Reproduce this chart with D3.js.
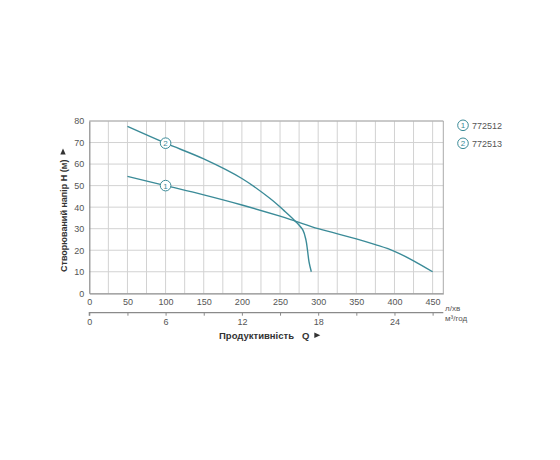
<!DOCTYPE html>
<html>
<head>
<meta charset="utf-8">
<script src="https://cdn.jsdelivr.net/npm/d3@7"></script>
<style>
    body { margin: 0; background: #fff; }
    text { font-family: "Liberation Sans", Arial, sans-serif; }
</style>
</head>
<body>
<svg id="chart" width="560" height="460"></svg>
<script>
// flow in l/min, head in m
const series1Q = [50, 100, 150, 200, 250, 270, 300, 350, 375, 400, 425, 450];
const series1H = [54.3, 50, 45.7, 41, 35.8, 33.5, 30, 25.3, 22.6, 19.5, 15.1, 10];
const series2Q = [50, 100, 150, 200, 237, 255, 270, 280, 284, 286, 288, 291];
const series2H = [77.5, 69.7, 62.4, 53.3, 44, 38.5, 33.5, 29.3, 24.7, 20, 14.6, 10];
const seriesNames = ['772512', '772513'];
const markerQ = 100;
const flowTicks = [0, 50, 100, 150, 200, 250, 300, 350, 400, 450];
const cubicTicks = [0, 6, 12, 18, 24];
const headTicks = [0, 10, 20, 30, 40, 50, 60, 70, 80];

const teal = '#3b8b98';
const gridColor = '#d2d2d2';
const axisColor = '#8a8a8a';
const labelColor = '#555';

const svg = d3.select('#chart');

const x = d3.scaleLinear().domain([0, 464]).range([89.3, 443.3]);
const xm3 = d3.scaleLinear().domain([0, 464 * 0.06]).range([89.3, 443.3]);
const y = d3.scaleLinear().domain([0, 80]).range([293.3, 121]);

// grid
const grid = svg.append('g');
grid.selectAll('line.v')
    .data(d3.range(25, 451, 25))
    .enter().append('line')
    .attr('x1', d => x(d)).attr('x2', d => x(d))
    .attr('y1', y(0)).attr('y2', y(80))
    .attr('stroke', gridColor);
grid.selectAll('line.h')
    .data(headTicks.slice(1))
    .enter().append('line')
    .attr('x1', x(0)).attr('x2', x(464))
    .attr('y1', d => y(d)).attr('y2', d => y(d))
    .attr('stroke', gridColor);
grid.append('line')
    .attr('x1', x(464)).attr('x2', x(464))
    .attr('y1', y(0)).attr('y2', y(80))
    .attr('stroke', '#aaa');
grid.append('line')
    .attr('x1', x(0)).attr('x2', x(464))
    .attr('y1', y(80)).attr('y2', y(80))
    .attr('stroke', '#aaa');

// axes
const yAxis = svg.append('g')
    .attr('transform', `translate(${x(0)},0)`)
    .call(d3.axisLeft(y).tickValues(headTicks).tickSize(0).tickPadding(5));
const xAxis = svg.append('g')
    .attr('transform', `translate(0,${y(0)})`)
    .call(d3.axisBottom(x).tickValues(flowTicks).tickSize(0).tickPadding(5));
const x2Axis = svg.append('g')
    .attr('transform', `translate(0,312.7)`)
    .call(d3.axisBottom(xm3).tickValues(d3.range(0, 27.1, 3)).tickSize(3).tickPadding(3)
        .tickFormat(d => cubicTicks.includes(d) ? d : ''));

[yAxis, xAxis, x2Axis].forEach(a => {
    a.select('.domain').attr('stroke', axisColor).attr('stroke-width', 1.2);
    a.selectAll('.tick line').attr('stroke', axisColor);
    a.selectAll('text')
        .attr('fill', labelColor)
        .style('font-size', '9px')
        .style('font-family', '"Liberation Sans", Arial, sans-serif');
});
x2Axis.select('.domain').attr('d', `M${xm3(0)},3V0H${xm3(464 * 0.06)}`);

// unit labels
svg.append('text')
    .attr('x', 445).attr('y', 311)
    .attr('fill', labelColor).style('font-size', '8px')
    .text('л/хв');
svg.append('text')
    .attr('x', 445).attr('y', 320.5)
    .attr('fill', labelColor).style('font-size', '8px')
    .text('м³/год');

// axis titles, arrow placed after measured text
const xTitle = svg.append('text')
    .attr('x', 219).attr('y', 339)
    .style('font-size', '9.5px').style('font-weight', 'bold')
    .attr('fill', '#333')
    .text('Продуктивність\u00a0\u00a0\u00a0Q');
const xEnd = 219 + xTitle.node().getComputedTextLength() + 5;
svg.append('path')
    .attr('d', `M${xEnd},332.6 L${xEnd + 6},335.3 L${xEnd},338 Z`)
    .attr('fill', '#333');

const yTitle = svg.append('text')
    .attr('transform', 'translate(66.5,272) rotate(-90)')
    .style('font-size', '9px').style('font-weight', 'bold')
    .attr('fill', '#333')
    .text('Створюваний напір H (м)');
const yEnd = 272 - yTitle.node().getComputedTextLength() - 5;
svg.append('path')
    .attr('d', `M60.3,${yEnd} L63,${yEnd - 6} L65.7,${yEnd} Z`)
    .attr('fill', '#333');

// curves
const line = d3.line()
    .x(d => x(d[0]))
    .y(d => y(d[1]))
    .curve(d3.curveCatmullRom.alpha(0.5));
const curves = [
    d3.zip(series1Q, series1H),
    d3.zip(series2Q, series2H)
];
svg.selectAll('path.curve')
    .data(curves)
    .enter().append('path')
    .classed('curve', true)
    .attr('d', line)
    .attr('fill', 'none')
    .attr('stroke', teal)
    .attr('stroke-width', 1.4);

// markers on curves
const markers = svg.selectAll('g.marker')
    .data(curves)
    .enter().append('g')
    .classed('marker', true)
    .attr('transform', d => {
        const i = d.findIndex(p => p[0] === markerQ);
        return `translate(${x(d[i][0])},${y(d[i][1])})`;
    });
markers.append('circle')
    .attr('r', 5.3)
    .attr('fill', '#fff')
    .attr('stroke', teal)
    .attr('stroke-width', 1);
markers.append('text')
    .attr('text-anchor', 'middle')
    .attr('dy', 3)
    .style('font-size', '8px')
    .attr('fill', teal)
    .text((_, i) => i + 1);

// legend
const legend = svg.selectAll('g.legend')
    .data(seriesNames)
    .enter().append('g')
    .classed('legend', true)
    .attr('transform', (_, i) => `translate(463,${125.3 + i * 18})`);
legend.append('circle')
    .attr('r', 5.3)
    .attr('fill', '#fff')
    .attr('stroke', teal)
    .attr('stroke-width', 1);
legend.append('text')
    .attr('text-anchor', 'middle')
    .attr('dy', 3)
    .style('font-size', '8px')
    .attr('fill', teal)
    .text((_, i) => i + 1);
legend.append('text')
    .attr('x', 9)
    .attr('dy', 3.2)
    .style('font-size', '9px')
    .attr('fill', labelColor)
    .text(d => d);
</script>
</body>
</html>
